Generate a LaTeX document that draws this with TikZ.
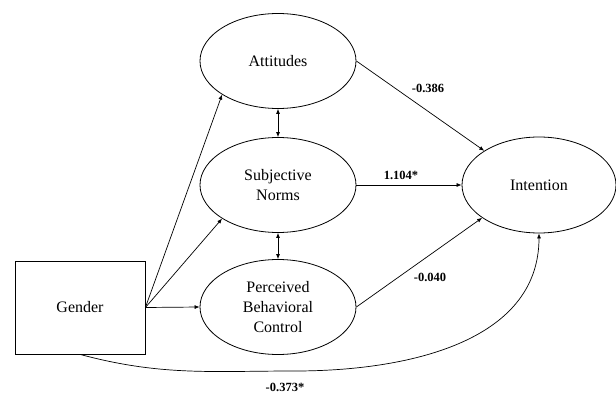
\documentclass[tikz,border=0pt]{standalone}
\usepackage{fontspec}
\setmainfont{Liberation Serif}
\usetikzlibrary{shapes.geometric,arrows.meta}
\begin{document}
\begin{tikzpicture}[x=1pt,y=-1pt,
  ell/.style={draw,ellipse,line width=0.8pt,minimum width=156pt,minimum height=95pt,inner sep=0pt,align=center,font=\fontsize{16}{20}\selectfont},
  box/.style={draw,rectangle,line width=0.8pt,minimum width=130pt,minimum height=93pt,font=\fontsize{16}{20}\selectfont},
  conn/.style={line width=0.7pt,-{Latex[length=5pt,width=4pt]}},
  dbl/.style={line width=0.7pt,{Latex[length=5pt,width=4pt]}-{Latex[length=5pt,width=4pt]}},
  lab/.style={font=\fontsize{12.5}{14}\selectfont\bfseries,inner sep=0pt}]
\useasboundingbox (0,0) rectangle (616,393);
\node[ell] (att) at (278,61) {Attitudes};
\node[ell] (sn) at (278,185) {Subjective\\Norms};
\node[ell] (pbc) at (278,307) {Perceived\\Behavioral\\Control};
\node[ell,minimum width=154pt,minimum height=96pt] (int) at (539,185) {Intention};
\node[box] (g) at (80,307.5) {Gender};
\draw[conn] (g.east) -- (att.211);
\draw[conn] (g.east) -- (sn.211);
\draw[conn] (g.east) -- (pbc.west);
\draw[dbl] (att.south) -- (sn.north);
\draw[dbl] (sn.south) -- (pbc.north);
\draw[conn] (att.east) -- (int.148);
\draw[conn] (sn.east) -- (int.west);
\draw[conn] (pbc.east) -- (int.210);
\coordinate (low) at (295,371);
\draw[conn] (g.south) to[out=-15,in=180] (low) to[out=0,in=-90] (int.south);
\node[lab] (l1) at (428,88) {-0.386};
\node[lab] (l2) at (401,175) {1.104*};
\node[lab] (l3) at (430,277) {-0.040};
\node[lab] (l4) at (285,387) {-0.373*};
\end{tikzpicture}
\end{document}
